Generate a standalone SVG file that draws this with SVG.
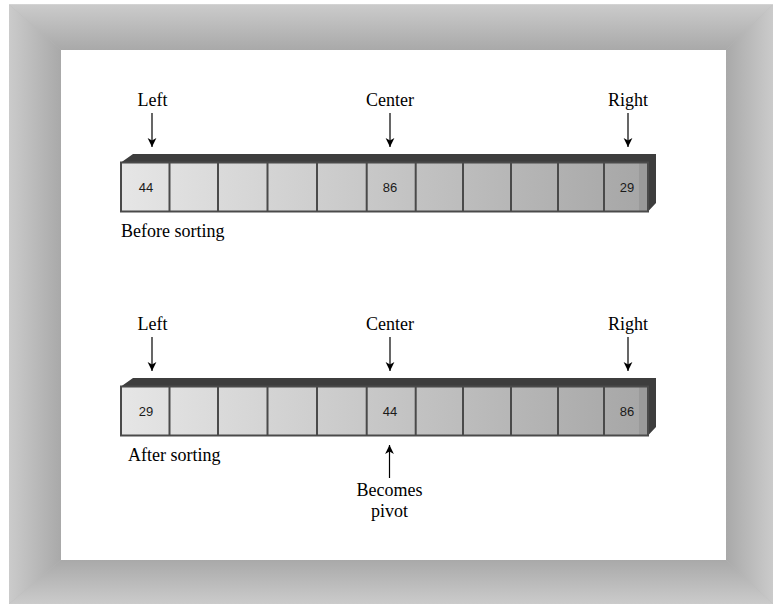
<svg xmlns="http://www.w3.org/2000/svg" width="773" height="604" viewBox="0 0 773 604">
<defs>
  <linearGradient id="gTop" x1="0" y1="0" x2="0" y2="1"><stop offset="0" stop-color="#cbcbcb"/><stop offset="1" stop-color="#a9a9a9"/></linearGradient>
  <linearGradient id="gBot" x1="0" y1="1" x2="0" y2="0"><stop offset="0" stop-color="#cbcbcb"/><stop offset="1" stop-color="#a9a9a9"/></linearGradient>
  <linearGradient id="gLeft" x1="0" y1="0" x2="1" y2="0"><stop offset="0" stop-color="#cbcbcb"/><stop offset="1" stop-color="#a9a9a9"/></linearGradient>
  <linearGradient id="gRight" x1="1" y1="0" x2="0" y2="0"><stop offset="0" stop-color="#cbcbcb"/><stop offset="1" stop-color="#a9a9a9"/></linearGradient>
  <linearGradient id="gCells" gradientUnits="userSpaceOnUse" x1="121" y1="0" x2="648" y2="0"><stop offset="0" stop-color="#e6e6e6"/><stop offset="1" stop-color="#a6a6a6"/></linearGradient>
  <marker id="ah" markerUnits="userSpaceOnUse" markerWidth="10" markerHeight="10" viewBox="0 0 10 10" refX="9" refY="5" orient="auto">
    <path d="M0,0.6 L9,5 L0,9.4 L2.5,5 z" fill="#000"/>
  </marker>
  <style>
    .lbl{font-family:"Liberation Serif","Times New Roman",serif;font-size:18px;fill:#000}
    .num{font-family:"Liberation Sans",Arial,sans-serif;font-size:13px;fill:#1a1a1a;text-anchor:middle}
    .cell{stroke:#4a4a4a;stroke-width:2}
    .bar{fill:#3d3d3d}
    .conn line{stroke:#000;stroke-width:1.2;marker-end:url(#ah)}
  </style>
  <g id="arrayShape">
    <polygon class="bar" points="121,162.5 133,154 656,154 656,203 648,211.5 648,162.5"/>
    <rect x="121" y="162.5" width="527" height="49" fill="url(#gCells)"/>
    <rect x="639" y="162.5" width="9" height="49" fill="#9a9a9a"/>
    <g class="cell" fill="none">
      <rect x="121" y="162.5" width="527" height="49"/>
      <line x1="169.5" y1="162.5" x2="169.5" y2="211.5"/>
      <line x1="218" y1="162.5" x2="218" y2="211.5"/>
      <line x1="267.5" y1="162.5" x2="267.5" y2="211.5"/>
      <line x1="317" y1="162.5" x2="317" y2="211.5"/>
      <line x1="366.7" y1="162.5" x2="366.7" y2="211.5"/>
      <line x1="415.7" y1="162.5" x2="415.7" y2="211.5"/>
      <line x1="463" y1="162.5" x2="463" y2="211.5"/>
      <line x1="511" y1="162.5" x2="511" y2="211.5"/>
      <line x1="558" y1="162.5" x2="558" y2="211.5"/>
      <line x1="604" y1="162.5" x2="604" y2="211.5"/>
    </g>
  </g>
</defs>

<g id="frame">
  <rect width="773" height="604" fill="#ffffff"/>
  <rect x="9" y="4.5" width="764" height="599.5" fill="#b9b9b9"/>
  <polygon points="9,4.5 773,4.5 726,50 61,50" fill="url(#gTop)"/>
  <polygon points="9,4.5 61,50 61,560 9,604" fill="url(#gLeft)"/>
  <polygon points="773,4.5 773,604 726,560 726,50" fill="url(#gRight)"/>
  <polygon points="9,604 61,560 726,560 773,604" fill="url(#gBot)"/>
  <rect x="61" y="50" width="665" height="510" fill="#ffffff"/>
</g>

<g id="array-before">
  <use href="#arrayShape"/>
  <text class="num" x="146" y="192">44</text>
  <text class="num" x="390" y="192">86</text>
  <text class="num" x="627" y="192">29</text>
</g>
<g id="array-after">
  <use href="#arrayShape" transform="translate(0,224)"/>
  <text class="num" x="146" y="416">29</text>
  <text class="num" x="390" y="416">44</text>
  <text class="num" x="627" y="416">86</text>
</g>

<g id="label-left-1"><text class="lbl" x="152.5" y="106" text-anchor="middle">Left</text></g>
<g id="label-center-1"><text class="lbl" x="390" y="106" text-anchor="middle">Center</text></g>
<g id="label-right-1"><text class="lbl" x="628" y="106" text-anchor="middle">Right</text></g>
<g id="label-before"><text class="lbl" x="121" y="237">Before sorting</text></g>

<g id="label-left-2"><text class="lbl" x="152.5" y="330" text-anchor="middle">Left</text></g>
<g id="label-center-2"><text class="lbl" x="390" y="330" text-anchor="middle">Center</text></g>
<g id="label-right-2"><text class="lbl" x="628" y="330" text-anchor="middle">Right</text></g>
<g id="label-after"><text class="lbl" x="128" y="461">After sorting</text></g>

<g id="label-pivot">
  <text class="lbl" x="389.5" y="496" text-anchor="middle">Becomes</text>
  <text class="lbl" x="389.5" y="517" text-anchor="middle">pivot</text>
</g>

<g id="connectors" class="conn">
  <line x1="152" y1="113" x2="152" y2="147"/>
  <line x1="390" y1="113" x2="390" y2="147"/>
  <line x1="628" y1="113" x2="628" y2="147"/>
  <line x1="152" y1="337" x2="152" y2="371"/>
  <line x1="390" y1="337" x2="390" y2="371"/>
  <line x1="628" y1="337" x2="628" y2="371"/>
  <line x1="389.5" y1="478" x2="389.5" y2="445"/>
</g>
</svg>
